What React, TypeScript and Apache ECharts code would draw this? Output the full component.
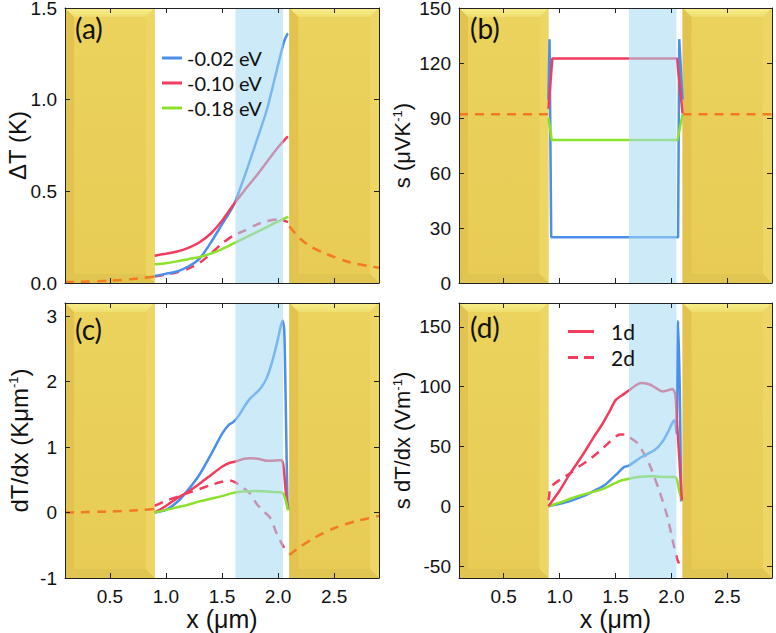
import React, { useEffect, useRef } from 'react';
import * as echarts from 'echarts';

// ---------- shared axis data ----------
const X_MIN = 0.1;
const X_MAX = 2.9;
const X_TICKS = [0.5, 1.0, 1.5, 2.0, 2.5];
const GOLD_SPANS = [[0.1, 0.9], [2.1, 2.9]];
const BLUE_SPAN = [[1.62, 2.045]];
const LEFT_X = [0.1, 0.2, 0.3, 0.4, 0.5, 0.6, 0.7, 0.8, 0.9];
const RIGHT_X = [2.1, 2.2, 2.3, 2.4, 2.5, 2.6, 2.7, 2.8, 2.9];

// ---------- (a) ΔT ----------
const A_TICKS = [0, 0.5, 1.0, 1.5];
const A_X = [0.9, 1.0, 1.1, 1.2, 1.3, 1.4, 1.5, 1.6, 1.7, 1.8, 1.9, 2.0, 2.05, 2.08, 2.09];
const A_BLUE = [0.038, 0.05, 0.063, 0.09, 0.133, 0.22, 0.32, 0.42, 0.58, 0.76, 0.945, 1.19, 1.31, 1.355, 1.36];
const A_RED = [0.149, 0.16, 0.172, 0.192, 0.222, 0.27, 0.34, 0.425, 0.505, 0.58, 0.66, 0.74, 0.775, 0.795, 0.797];
const A_GREEN = [0.102, 0.108, 0.118, 0.13, 0.142, 0.16, 0.185, 0.215, 0.245, 0.275, 0.305, 0.336, 0.35, 0.358, 0.362];
const A_DASH = [0.035, 0.045, 0.058, 0.078, 0.11, 0.16, 0.215, 0.258, 0.286, 0.316, 0.338, 0.347, 0.34, 0.335, 0.333];
const A_OR_L = [0.005, 0.006, 0.008, 0.01, 0.013, 0.017, 0.022, 0.028, 0.035];
const A_OR_R = [0.31, 0.24, 0.195, 0.166, 0.142, 0.12, 0.105, 0.093, 0.083];

// ---------- (b) s ----------
const B_TICKS = [0, 30, 60, 90, 120, 150];
const B_BLUE_X = [0.9, 0.91, 0.925, 2.06, 2.07, 2.1];
const B_BLUE = [100, 133, 25, 25, 133, 100];
const B_RED_X = [0.9, 0.935, 2.05, 2.1];
const B_RED = [95, 122.5, 122.5, 92.5];
const B_GREEN_X = [0.9, 0.93, 2.055, 2.1];
const B_GREEN = [90, 78, 78, 92];
const B_OR_X_L = [0.1, 0.9];
const B_OR_X_R = [2.1, 2.9];
const B_OR = [92, 92];

// ---------- (c) dT/dx ----------
const C_TICKS = [-1, 0, 1, 2, 3];
const C_BLUE_X = [0.9, 1.0, 1.1, 1.2, 1.3, 1.4, 1.5, 1.56, 1.6, 1.65, 1.7, 1.75, 1.8, 1.85, 1.9, 1.95, 2.0, 2.02, 2.04, 2.055, 2.07, 2.083, 2.092];
const C_BLUE = [0.0, 0.04, 0.16, 0.35, 0.58, 0.88, 1.2, 1.34, 1.38, 1.48, 1.62, 1.74, 1.82, 1.91, 2.06, 2.32, 2.66, 2.82, 2.93, 2.78, 1.5, 0.2, 0.04];
const C_RED_X = [0.9, 1.0, 1.1, 1.2, 1.3, 1.4, 1.5, 1.57, 1.62, 1.7, 1.75, 1.8, 1.85, 1.9, 1.95, 2.0, 2.03, 2.045, 2.06, 2.075, 2.09];
const C_RED = [0.0, 0.1, 0.22, 0.32, 0.44, 0.57, 0.7, 0.76, 0.78, 0.82, 0.83, 0.825, 0.81, 0.79, 0.79, 0.8, 0.8, 0.74, 0.49, 0.2, 0.05];
const C_GREEN_X = [0.9, 1.0, 1.1, 1.2, 1.3, 1.4, 1.5, 1.6, 1.7, 1.8, 1.9, 2.0, 2.04, 2.06, 2.09];
const C_GREEN = [0.0, 0.04, 0.08, 0.12, 0.17, 0.21, 0.25, 0.3, 0.32, 0.33, 0.32, 0.31, 0.3, 0.23, 0.03];
const C_DASH_X = [0.9, 1.0, 1.1, 1.2, 1.3, 1.4, 1.5, 1.57, 1.62, 1.68, 1.75, 1.81, 1.87, 1.93, 1.99, 2.05, 2.09];
const C_DASH = [0.1, 0.18, 0.24, 0.3, 0.36, 0.42, 0.47, 0.49, 0.46, 0.39, 0.29, 0.13, 0.02, -0.08, -0.33, -0.53, -0.63];
const C_OR_L = [0.0, 0.003, 0.007, 0.011, 0.016, 0.022, 0.03, 0.041, 0.055];
const C_OR_R = [-0.65, -0.52, -0.41, -0.32, -0.24, -0.18, -0.13, -0.09, -0.05];

// ---------- (d) s dT/dx ----------
const D_TICKS = [-50, 0, 50, 100, 150];
const D_RED_X = [0.9, 1.0, 1.085, 1.2, 1.3, 1.384, 1.45, 1.503, 1.577, 1.622, 1.68, 1.727, 1.8, 1.86, 1.921, 1.97, 2.01, 2.034, 2.05, 2.07, 2.094];
const D_RED = [0, 13, 26, 42, 57, 69, 80, 89, 94, 97, 101, 103, 102, 99, 96, 97, 98, 94, 70, 41, 5];
const D_BLUE_X = [0.9, 1.0, 1.1, 1.2, 1.3, 1.4, 1.5, 1.58, 1.62, 1.73, 1.85, 1.92, 1.98, 2.01, 2.03, 2.045, 2.06, 2.075, 2.087];
const D_BLUE = [0, 2, 4.5, 8, 12.5, 17.5, 26, 33, 34, 41, 47, 54, 64, 70, 72, 61, 155, 97, 4];
const D_GREEN_X = [0.9, 1.0, 1.1, 1.2, 1.3, 1.4, 1.5, 1.55, 1.62, 1.7, 1.83, 1.95, 2.03, 2.05, 2.07, 2.094];
const D_GREEN = [0, 3, 6.5, 9.5, 12, 15, 19.5, 21.5, 23, 24.5, 25, 24.5, 24.5, 22, 13, 5];
const D_DASH_X = [0.9, 0.906, 0.92, 1.01, 1.1, 1.17, 1.25, 1.37, 1.45, 1.54, 1.58, 1.62, 1.7, 1.8, 1.89, 1.965, 2.01, 2.055, 2.085];
const D_DASH = [5, 8, 16, 22.6, 28, 33, 38, 47, 54, 60, 60, 58, 52.4, 35.7, 13.4, -9, -28, -45, -51];

// ---------- styles ----------
const BLUE = '#4a8fea';
const RED = '#f23d5f';
const GREEN = '#8ce22b';
const ORANGE = '#f47a20';
const AX = '#222';
const TICK_FONT = 'Liberation Sans';
const LEG_FONT = 'Lato';
const DASH_ICON = 'path://M0,0H10V1H0Z M16,0H26V1H16Z';

const zip = (xs: number[], ys: number[]) => xs.map((x, i) => [x, ys[i]]);

const GRIDS = [
  { left: 65, top: 8, width: 314, height: 275 },
  { left: 459, top: 8, width: 313, height: 275 },
  { left: 65, top: 303, width: 314, height: 275 },
  { left: 459, top: 303, width: 313, height: 275 },
];

const goldSeries = (gi: number, yMin: number, yMax: number) => ({
  type: 'custom',
  xAxisIndex: gi * 2,
  yAxisIndex: gi * 2,
  z: 1,
  silent: true,
  clip: false,
  data: GOLD_SPANS.map(([a, b]) => [a, b, yMin, yMax]),
  encode: { x: [0, 1], y: [2, 3] },
  renderItem: (_p: any, api: any) => {
    const p0 = api.coord([api.value(0), api.value(3)]);
    const p1 = api.coord([api.value(1), api.value(2)]);
    const L = p0[0], T = p0[1], R = p1[0], B = p1[1];
    const b = 9;
    return {
      type: 'group',
      children: [
        {
          type: 'rect',
          shape: { x: L, y: T, width: R - L, height: B - T },
          style: {
            fill: new echarts.graphic.LinearGradient(0, 0, 0, 1, [
              { offset: 0, color: '#ebd35d' },
              { offset: 1, color: '#e7cb55' },
            ]),
          },
        },
        {
          type: 'polygon',
          shape: { points: [[L, T], [R, T], [R - b, T + b], [L + b, T + b]] },
          style: {
            fill: new echarts.graphic.LinearGradient(0, 0, 0, 1, [
              { offset: 0, color: '#f8ef8c' },
              { offset: 1, color: '#efde6e' },
            ]),
          },
        },
        {
          type: 'polygon',
          shape: { points: [[L, T], [L + b, T + b], [L + b, B - b], [L, B]] },
          style: { fill: '#e2c34f' },
        },
        {
          type: 'polygon',
          shape: { points: [[R, T], [R, B], [R - b, B - b], [R - b, T + b]] },
          style: { fill: '#edd663' },
        },
        {
          type: 'polygon',
          shape: { points: [[L, B], [L + b, B - b], [R - b, B - b], [R, B]] },
          style: { fill: '#e0c552' },
        },
      ],
    };
  },
});

const blueSeries = (gi: number, yMin: number, yMax: number) => ({
  type: 'custom',
  xAxisIndex: gi * 2,
  yAxisIndex: gi * 2,
  z: 5,
  silent: true,
  data: BLUE_SPAN.map(([a, b]) => [a, b, yMin, yMax]),
  encode: { x: [0, 1], y: [2, 3] },
  renderItem: (_p: any, api: any) => {
    const p0 = api.coord([api.value(0), api.value(3)]);
    const p1 = api.coord([api.value(1), api.value(2)]);
    return {
      type: 'rect',
      shape: { x: p0[0], y: p0[1], width: p1[0] - p0[0], height: p1[1] - p0[1] },
      style: { fill: 'rgba(164,217,242,0.55)' },
    };
  },
});

const line = (name: string, data: number[][], color: string, gi: number, dashed = false, smooth: number | boolean = 0.25) => ({
  type: 'line',
  name,
  xAxisIndex: gi * 2,
  yAxisIndex: gi * 2,
  data,
  symbol: 'none',
  showSymbol: false,
  smooth,
  z: 2,
  silent: true,
  lineStyle: { color, width: 2.5, type: dashed ? [9, 7] : 'solid' },
  itemStyle: { color },
  emphasis: { disabled: true },
});

const tickFmt1 = (v: number) => v.toFixed(1);
const tickFmt0 = (v: number) => String(Math.round(v));

function axesFor(gi: number, yMin: number, yMax: number, yTicks: number[], yFmt: (v: number) => string, showX: boolean, yName: string, yGap: number, yNameSize: number) {
  const lineStyle = { color: AX, width: 1 };
  const xBase = {
    type: 'value',
    gridIndex: gi,
    min: X_MIN,
    max: X_MAX,
    z: 10,
    splitLine: { show: false },
    axisLine: { show: true, onZero: false, lineStyle },
    axisTick: { show: true, inside: true, length: 5, customValues: X_TICKS, lineStyle },
  };
  const yBase = {
    type: 'value',
    gridIndex: gi,
    min: yMin,
    max: yMax,
    z: 10,
    splitLine: { show: false },
    axisLine: { show: true, onZero: false, lineStyle },
    axisTick: { show: true, inside: true, length: 5, customValues: yTicks, lineStyle },
  };
  const xs = [
    {
      ...xBase,
      position: 'bottom',
      axisLabel: { show: showX, customValues: X_TICKS, formatter: tickFmt1, margin: 9, fontSize: 19, fontFamily: TICK_FONT, color: '#111' },
      name: showX ? 'x (μm)' : '',
      nameLocation: 'middle',
      nameGap: 28,
      nameMoveOverlap: false,
      nameTextStyle: { fontSize: 25, fontFamily: TICK_FONT, color: '#111' },
    },
    { ...xBase, position: 'top', axisLabel: { show: false } },
  ];
  const ys = [
    {
      ...yBase,
      position: 'left',
      axisLabel: { show: true, customValues: yTicks, formatter: yFmt, margin: 8, fontSize: 19, fontFamily: TICK_FONT, color: '#111' },
      name: yName,
      nameLocation: 'middle',
      nameRotate: 90,
      nameGap: yGap,
      nameMoveOverlap: false,
      nameTextStyle: {
        fontSize: yNameSize,
        fontFamily: TICK_FONT,
        color: '#111',
        rich: { sup: { fontSize: 13, fontFamily: TICK_FONT, color: '#111', verticalAlign: 'top', padding: [0, 0, 8, 0] } },
      },
    },
    { ...yBase, position: 'right', axisLabel: { show: false } },
  ];
  return { xs, ys };
}

export default function App() {
  const ref = useRef<HTMLDivElement>(null);
  useEffect(() => {
    if (!ref.current) return;
    const chart = echarts.init(ref.current, undefined, { renderer: 'svg' });

    const axA = axesFor(0, 0, 1.5, A_TICKS, tickFmt1, false, 'ΔT (K)', 36, 24);
    const axB = axesFor(1, 0, 150, B_TICKS, tickFmt0, false, 's (μVK{sup|-1})', 46, 22);
    const axC = axesFor(2, -1, 3.2, C_TICKS, tickFmt0, true, 'dT/dx (Kμm{sup|-1})', 34, 24);
    const axD = axesFor(3, -60, 170, D_TICKS, tickFmt0, true, 's dT/dx (Vm{sup|-1})', 46, 22);

    const series: any[] = [
      // (a)
      goldSeries(0, 0, 1.5),
      line('contact', zip(LEFT_X, A_OR_L), ORANGE, 0, true),
      line('contact', zip(RIGHT_X, A_OR_R), ORANGE, 0, true),
      line('dashed', zip(A_X, A_DASH), RED, 0, true),
      line('-0.02 eV', zip(A_X, A_BLUE), BLUE, 0),
      line('-0.10 eV', zip(A_X, A_RED), RED, 0),
      line('-0.18 eV', zip(A_X, A_GREEN), GREEN, 0),
      blueSeries(0, 0, 1.5),
      // (b)
      goldSeries(1, 0, 150),
      line('contact', zip(B_OR_X_L, B_OR), ORANGE, 1, true, false),
      line('contact', zip(B_OR_X_R, B_OR), ORANGE, 1, true, false),
      line('-0.02 eV', zip(B_BLUE_X, B_BLUE), BLUE, 1, false, false),
      line('-0.18 eV', zip(B_GREEN_X, B_GREEN), GREEN, 1, false, false),
      line('-0.10 eV', zip(B_RED_X, B_RED), RED, 1, false, false),
      blueSeries(1, 0, 150),
      // (c)
      goldSeries(2, -1, 3.2),
      line('contact', zip(LEFT_X, C_OR_L), ORANGE, 2, true),
      line('contact', zip(RIGHT_X, C_OR_R), ORANGE, 2, true),
      line('dashed', zip(C_DASH_X, C_DASH), RED, 2, true),
      line('-0.02 eV', zip(C_BLUE_X, C_BLUE), BLUE, 2),
      line('-0.10 eV', zip(C_RED_X, C_RED), RED, 2),
      line('-0.18 eV', zip(C_GREEN_X, C_GREEN), GREEN, 2),
      blueSeries(2, -1, 3.2),
      // (d)
      goldSeries(3, -60, 170),
      line('2d', zip(D_DASH_X, D_DASH), RED, 3, true),
      line('-0.02 eV', zip(D_BLUE_X, D_BLUE), BLUE, 3),
      line('-0.18 eV', zip(D_GREEN_X, D_GREEN), GREEN, 3),
      line('1d', zip(D_RED_X, D_RED), RED, 3),
      blueSeries(3, -60, 170),
    ];

    const panelLabel = (text: string, left: number, top: number) => ({
      type: 'text',
      left,
      top,
      z: 30,
      silent: true,
      style: { text, fontSize: 28, fontFamily: LEG_FONT, fill: '#111' },
    });

    chart.setOption({
      animation: false,
      backgroundColor: '#fff',
      grid: GRIDS.map((g) => ({ ...g, outerBoundsMode: 'none', containLabel: false, show: false })),
      xAxis: [...axA.xs, ...axB.xs, ...axC.xs, ...axD.xs],
      yAxis: [...axA.ys, ...axB.ys, ...axC.ys, ...axD.ys],
      legend: [
        {
          left: 162,
          top: 48,
          padding: 0,
          orient: 'vertical',
          itemWidth: 20,
          itemHeight: 3,
          itemGap: 5,
          symbolKeepAspect: false,
          selectedMode: false,
          z: 30,
          data: [
            { name: '-0.02 eV', icon: 'rect' },
            { name: '-0.10 eV', icon: 'rect' },
            { name: '-0.18 eV', icon: 'rect' },
          ],
          textStyle: { fontFamily: LEG_FONT, fontSize: 20, color: '#111' },
        },
        {
          left: 568,
          top: 321,
          padding: 0,
          orient: 'vertical',
          itemWidth: 26,
          itemHeight: 3,
          itemGap: 5,
          symbolKeepAspect: false,
          selectedMode: false,
          z: 30,
          data: [
            { name: '1d', icon: 'rect' },
            { name: '2d', icon: DASH_ICON },
          ],
          textStyle: { fontFamily: LEG_FONT, fontSize: 21, color: '#111', padding: [0, 0, 0, 12] },
        },
      ],
      graphic: [
        panelLabel('(a)', 75, 14),
        panelLabel('(b)', 470, 14),
        panelLabel('(c)', 75, 315),
        panelLabel('(d)', 470, 313),
      ],
      series,
    });
    return () => chart.dispose();
  }, []);
  return <div ref={ref} style={{ position: 'fixed', left: 0, top: 0, width: 776, height: 633 }} />;
}
